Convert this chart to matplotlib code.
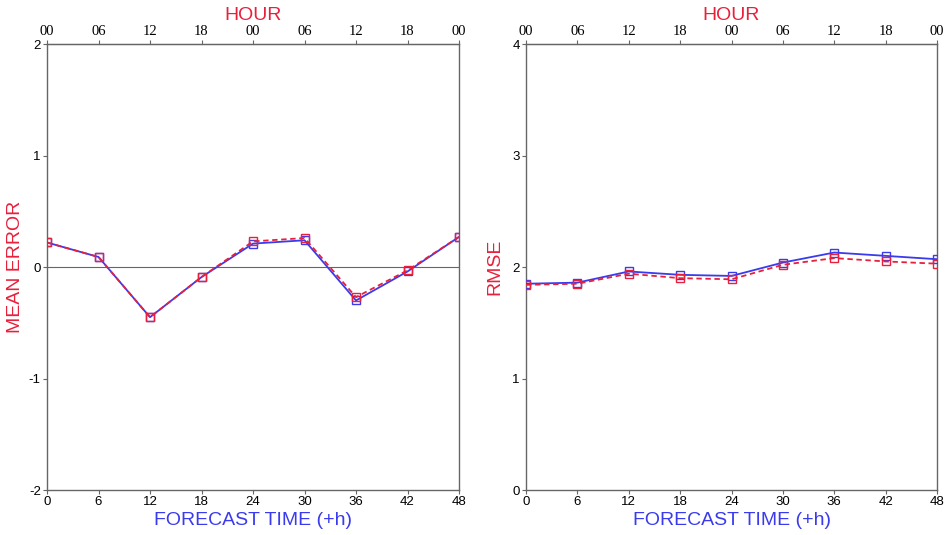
"""
Mean error and RMSE against forecast lead time, two panels.
"""

import matplotlib
matplotlib.use("Agg")

import matplotlib.pyplot as plt

# Forecast lead times and the verifying hour of day
lead_hours = [0, 6, 12, 18, 24, 30, 36, 42, 48]
hour_labels = ["00", "06", "12", "18", "00", "06", "12", "18", "00"]

# Mean error, two experiments
me_blue = [0.22, 0.09, -0.45, -0.09, 0.21, 0.24, -0.30, -0.04, 0.27]
me_red = [0.22, 0.09, -0.45, -0.09, 0.23, 0.26, -0.27, -0.03, 0.27]

# RMSE, two experiments
rmse_blue = [1.85, 1.86, 1.96, 1.93, 1.92, 2.04, 2.13, 2.10, 2.07]
rmse_red = [1.84, 1.85, 1.94, 1.90, 1.89, 2.02, 2.08, 2.05, 2.03]

BLUE = "#3a3aee"
RED = "#e8203c"
AXIS_GRAY = "#666666"
SANS = ["Liberation Sans", "DejaVu Sans"]
SERIF = ["Liberation Serif", "DejaVu Serif"]

plt.rcParams["font.family"] = SANS
plt.rcParams["axes.unicode_minus"] = False

fig = plt.figure(figsize=(9.48, 5.35), dpi=100)
ax_me = fig.add_axes([0.0496, 0.0841, 0.4346, 0.8336])
ax_rm = fig.add_axes([0.5549, 0.0841, 0.4335, 0.8336])


def style_panel(ax, ylim, yticks, ylabel):
    ax.set_xlim(0, 48)
    ax.set_ylim(*ylim)
    ax.set_xticks(lead_hours)
    ax.set_yticks(yticks)
    for side in ax.spines.values():
        side.set_color(AXIS_GRAY)
        side.set_linewidth(1.0)
    ax.tick_params(direction="out", length=3, width=0.8, color=AXIS_GRAY,
                   labelsize=9.5, pad=1.5)
    ax.set_xlabel("FORECAST TIME (+h)", color=BLUE, fontsize=14, labelpad=3)
    ax.set_ylabel(ylabel, color=RED, fontsize=14)
    ax.yaxis.set_label_coords(-0.055, 0.5)

    top = ax.secondary_xaxis("top")
    top.set_xticks(lead_hours, hour_labels)
    top.tick_params(direction="out", length=3, width=0.8, color=AXIS_GRAY,
                    labelsize=10.5, pad=1.0)
    for lbl in top.get_xticklabels():
        lbl.set_fontfamily(SERIF)
    top.spines["top"].set_color(AXIS_GRAY)
    top.set_xlabel("HOUR", color=RED, fontsize=14, labelpad=4)


def draw_series(ax, blue, red):
    ax.plot(lead_hours, blue, "-", color=BLUE, linewidth=1.3,
            marker="s", markersize=6, markerfacecolor="none",
            markeredgecolor=BLUE, markeredgewidth=1.0, zorder=3)
    ax.plot(lead_hours, red, "--", color=RED, linewidth=1.3, dashes=(3, 2),
            marker="s", markersize=6, markerfacecolor="none",
            markeredgecolor=RED, markeredgewidth=1.0, zorder=4)


# Left panel: mean error
style_panel(ax_me, (-2, 2), [-2, -1, 0, 1, 2], "MEAN ERROR")
ax_me.axhline(0, color=AXIS_GRAY, linewidth=0.8, zorder=1)
draw_series(ax_me, me_blue, me_red)

# Right panel: RMSE
style_panel(ax_rm, (0, 4), [0, 1, 2, 3, 4], "RMSE")
draw_series(ax_rm, rmse_blue, rmse_red)

fig.savefig("out.png", dpi=100)
plt.close(fig)
